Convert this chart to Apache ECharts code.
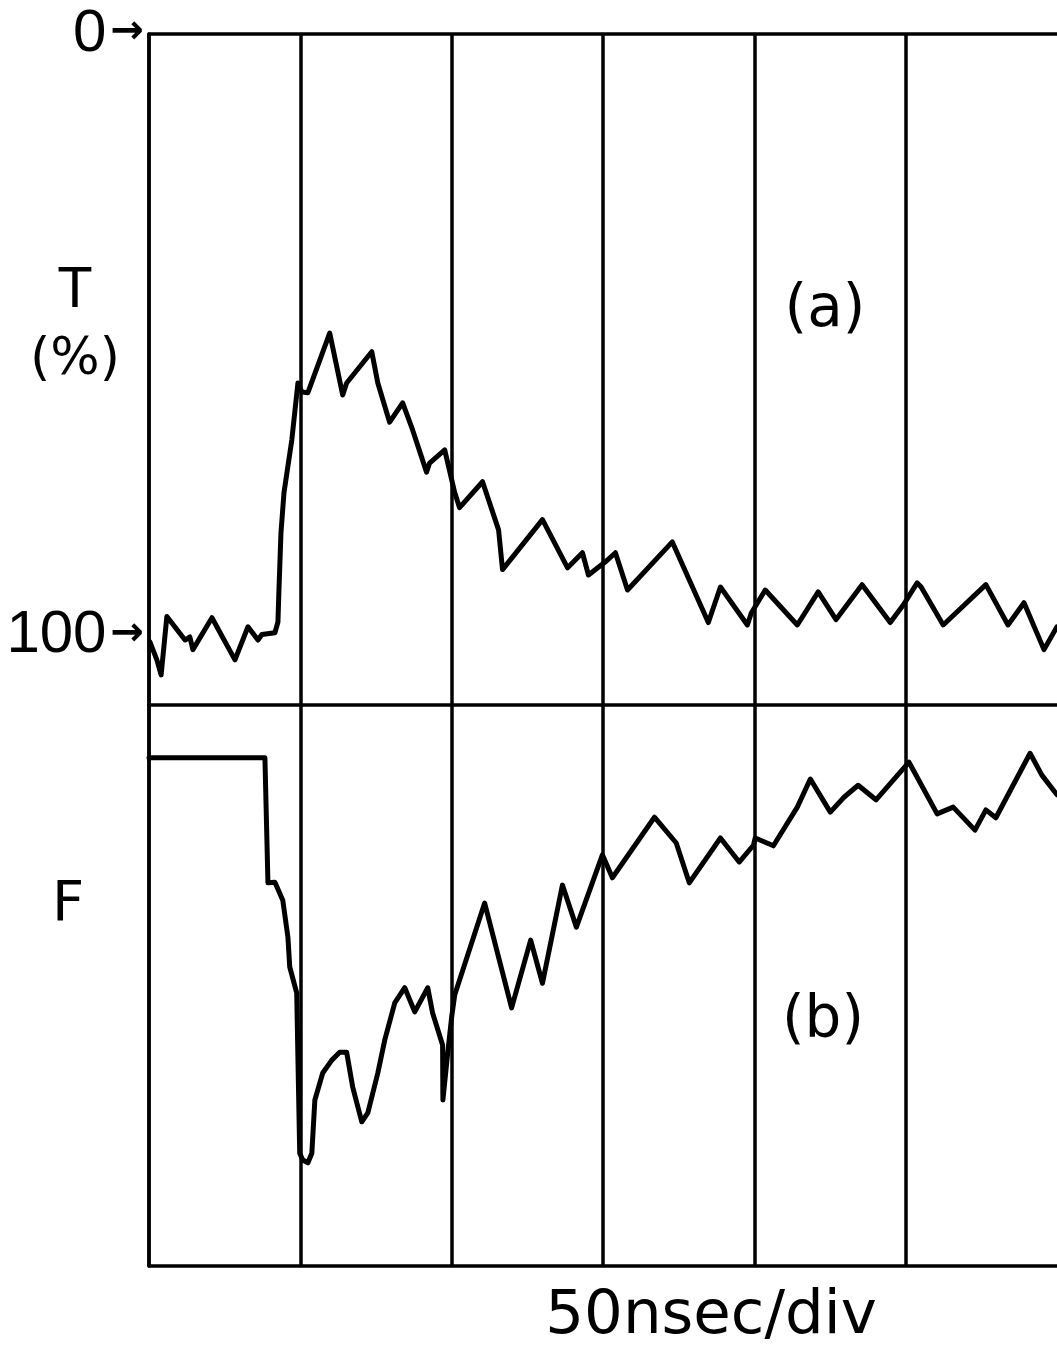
<!DOCTYPE html>
<html>
<head>
<meta charset="utf-8">
<title>Transmission and fluorescence traces, 50 nsec/div</title>
<script src="https://cdn.jsdelivr.net/npm/echarts@6/dist/echarts.min.js"></script>
<style>
  html, body { margin: 0; padding: 0; background: #ffffff; }
  #chart { width: 1057px; height: 1359px; }
</style>
</head>
<body>
<div id="chart"></div>
<script>
// Time axis: 50 ns per division, six divisions
const timeMin = 0;
const timeMax = 300;
const timeStep = 50;

// Tick labels on the transmission axis (value -> text)
const tTickValues = [0, 100];
const tTickLabels = ['0', '100'];

// (a) Transmission T (%) versus time (ns); 0 at top, 100 at the lower arrow
const traceA_ns = [0.3, 2.6, 4.0, 5.9, 11.9, 13.5, 14.5, 20.8, 28.4, 32.7, 36.0, 37.3, 41.6, 42.6, 42.9, 43.6, 44.6, 47.2, 49.2, 50.5,
  52.5, 59.7, 64.0, 65.3, 73.6, 75.6, 79.5, 83.8, 87.1, 91.7, 92.7, 97.7, 101.0, 102.6, 110.2, 115.5, 116.8, 130.0, 138.3, 143.2,
  145.2, 150.8, 154.1, 158.1, 172.9, 184.8, 188.8, 197.7, 199.0, 203.6, 214.2, 221.1, 227.0, 235.6, 244.9, 249.2, 253.8, 255.1,
  262.4, 276.5, 283.8, 289.1, 295.7, 300.0];
const traceA_T = [101.0, 104.0, 106.5, 96.8, 100.7, 100.2, 102.3, 97.0, 104.0, 98.5, 100.7, 99.8, 99.5, 97.7, 92.9, 82.9, 76.2, 67.4, 58.0, 59.5,
  59.6, 49.7, 60.0, 58.0, 52.8, 58.0, 64.5, 61.3, 65.8, 72.8, 71.3, 69.1, 76.2, 78.7, 74.4, 82.4, 89.0, 80.7, 88.7, 86.2,
  89.9, 87.7, 86.2, 92.4, 84.4, 97.8, 91.9, 98.2, 96.2, 92.4, 98.2, 92.7, 97.3, 91.5, 97.8, 94.9, 91.2, 91.9,
  98.2, 91.5, 98.2, 94.5, 102.3, 98.5];

// (b) Fluorescence F (arbitrary units) versus time (ns)
const traceB_ns = [0.0, 38.3, 39.3, 41.6, 44.2, 45.9, 46.5, 48.8, 49.8, 50.8, 52.5, 53.8, 54.8, 57.4, 60.4, 63.0, 65.3, 67.3, 70.3, 72.3,
  75.6, 77.9, 81.2, 84.5, 87.8, 92.1, 93.7, 97.0, 97.1, 98.7, 100.0, 101.0, 110.9, 119.8, 126.1, 130.0, 136.6, 141.2, 149.8, 153.1,
  167.0, 174.2, 178.5, 188.8, 195.0, 199.7, 200.3, 206.3, 214.2, 218.5, 225.1, 229.7, 234.3, 240.2, 251.1, 260.4, 265.7, 272.9,
  276.5, 279.8, 291.1, 295.0, 300.0];
const traceB_F = [90.6, 90.6, 68.3, 68.4, 65.2, 58.6, 53.3, 48.7, 20.1, 18.9, 18.4, 20.1, 29.6, 34.4, 36.7, 38.1, 38.1, 31.9, 25.7, 27.3,
  34.4, 40.3, 46.9, 49.6, 45.3, 49.6, 45.1, 39.4, 29.6, 38.0, 44.4, 48.3, 64.7, 46.0, 58.1, 50.4, 67.9, 60.4, 73.3, 69.2,
  80.0, 75.4, 68.3, 76.3, 72.0, 75.0, 76.3, 74.9, 81.8, 86.8, 80.9, 83.6, 85.7, 83.1, 89.8, 80.6, 81.8, 77.7,
  81.3, 79.9, 91.4, 87.5, 84.0];

const pairs = (xs, ys) => xs.map((x, i) => [x, ys[i]]);

const INK = '#000000';
const frame = { color: INK, width: 3.5 };
const traceStyle = { color: INK, width: 5, cap: 'round', join: 'round' };
const letterFont = '"DejaVu Sans", sans-serif';

const chart = echarts.init(document.getElementById('chart'), null, { renderer: 'canvas' });

function timeAxis(gridIndex, position, withSplit) {
  return {
    type: 'value', gridIndex, position,
    min: timeMin, max: timeMax, interval: timeStep,
    axisLine: { show: true, onZero: false, lineStyle: frame },
    axisTick: { show: false },
    axisLabel: { show: false },
    splitLine: { show: withSplit, showMinLine: true, showMaxLine: false, lineStyle: frame }
  };
}

chart.setOption({
  backgroundColor: '#ffffff',
  animation: false,
  grid: [
    { left: 149, top: 34, width: 909, height: 671 },
    { left: 149, top: 705, width: 909, height: 561 }
  ],
  xAxis: [
    timeAxis(0, 'bottom', true),
    timeAxis(0, 'top', false),
    timeAxis(1, 'bottom', true)
  ],
  yAxis: [
    {
      type: 'value', gridIndex: 0, inverse: true,
      min: 0, max: 111.5, interval: 100,
      axisLine: { show: true, lineStyle: frame },
      axisTick: { show: false },
      splitLine: { show: false },
      axisLabel: {
        show: true, margin: 5, showMaxLabel: false, hideOverlap: false,
        formatter: v => {
          const k = tTickValues.indexOf(v);
          return k < 0 ? '' : '{n|' + tTickLabels[k] + '}{a|→}';
        },
        rich: {
          n: { fontFamily: '"Liberation Sans", sans-serif', fontSize: 60, color: INK, verticalAlign: 'middle' },
          a: { fontFamily: letterFont, fontSize: 40, fontWeight: 'bold', color: INK, verticalAlign: 'middle', padding: [0, 0, 2, 4] }
        }
      }
    },
    {
      type: 'value', gridIndex: 1,
      min: 0, max: 100,
      axisLine: { show: true, lineStyle: frame },
      axisTick: { show: false },
      axisLabel: { show: false },
      splitLine: { show: false }
    }
  ],
  graphic: [
    { type: 'text', x: 75, y: 291, style: { text: 'T', font: '58px "Liberation Sans", sans-serif', fill: INK, textAlign: 'center', textVerticalAlign: 'middle' } },
    { type: 'text', x: 75, y: 360, style: { text: '(%)', font: '52px ' + letterFont, fill: INK, textAlign: 'center', textVerticalAlign: 'middle' } },
    { type: 'text', x: 68, y: 905, style: { text: 'F', font: '56px ' + letterFont, fill: INK, textAlign: 'center', textVerticalAlign: 'middle' } },
    { type: 'text', x: 825, y: 311, style: { text: '(a)', font: '58px ' + letterFont, fill: INK, textAlign: 'center', textVerticalAlign: 'middle' } },
    { type: 'text', x: 823, y: 1022, style: { text: '(b)', font: '58px ' + letterFont, fill: INK, textAlign: 'center', textVerticalAlign: 'middle' } },
    { type: 'text', x: 711, y: 1317, style: { text: '50nsec/div', font: '61px ' + letterFont, fill: INK, textAlign: 'center', textVerticalAlign: 'middle' } }
  ],
  series: [
    {
      name: 'T', type: 'line', xAxisIndex: 0, yAxisIndex: 0,
      data: pairs(traceA_ns, traceA_T),
      showSymbol: false, symbol: 'none', smooth: false,
      lineStyle: traceStyle, clip: true
    },
    {
      name: 'F', type: 'line', xAxisIndex: 2, yAxisIndex: 1,
      data: pairs(traceB_ns, traceB_F),
      showSymbol: false, symbol: 'none', smooth: false,
      lineStyle: traceStyle, clip: true
    }
  ]
});
</script>
</body>
</html>
